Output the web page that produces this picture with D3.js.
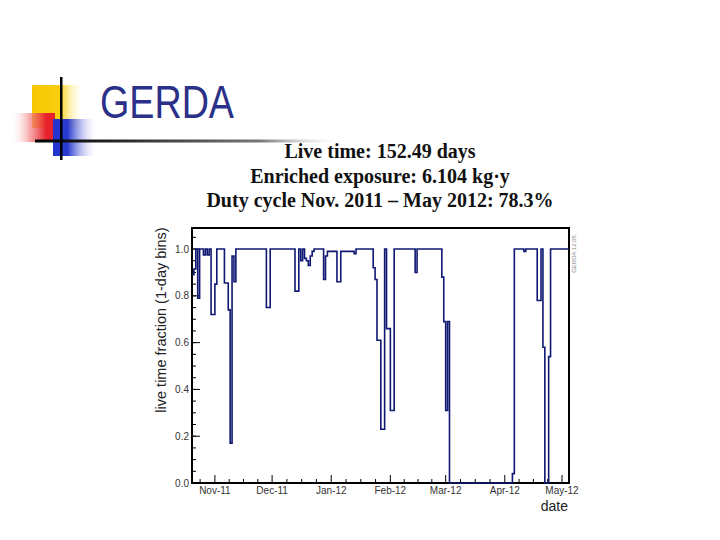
<!DOCTYPE html>
<html>
<head>
<meta charset="utf-8">
<script src="https://cdn.jsdelivr.net/npm/d3@7"></script>
<style>
body { margin: 0; background: #fff; }
</style>
</head>
<body>
<svg id="canvas" width="720" height="540"></svg>
<script>
let titleLines = ['Live time: 152.49 days', 'Enriched exposure: 6.104 kg\u00b7y', 'Duty cycle Nov. 2011 \u2013 May 2012: 78.3%'];

// one value per day, first bin = 20 Oct 2011
let firstDay = '2011-10-20';
let lastEdge = '2012-05-04T16:00:00Z';
let liveFraction = [
    0.89, 0.915, 1.0, 0.79, 1.0, 1.0, 0.975, 1.0, 0.975, 1.0,
    0.72, 0.72, 0.85, 1.0, 1.0, 1.0, 1.0, 0.855, 0.855, 0.74,
    0.17, 0.97, 0.86, 1.0, 1.0, 1.0, 1.0, 1.0, 1.0, 1.0,
    1.0, 1.0, 1.0, 1.0, 1.0, 1.0, 1.0, 1.0, 1.0, 0.75,
    0.75, 1.0, 1.0, 1.0, 1.0, 1.0, 1.0, 1.0, 1.0, 1.0,
    1.0, 1.0, 1.0, 1.0, 0.82, 0.82, 1.0, 0.95, 1.0, 0.96,
    0.95, 0.93, 0.97, 0.99, 1.0, 1.0, 1.0, 1.0, 1.0, 0.87,
    0.97, 0.99, 0.99, 0.99, 0.99, 0.99, 0.86, 0.86, 0.99, 0.99,
    0.99, 0.99, 0.99, 0.99, 0.99, 0.98, 1.0, 1.0, 1.0, 1.0,
    1.0, 1.0, 1.0, 1.0, 1.0, 0.92, 0.87, 0.61, 0.61, 0.23,
    0.23, 1.0, 0.66, 0.66, 0.31, 0.31, 1.0, 1.0, 1.0, 1.0,
    1.0, 1.0, 1.0, 1.0, 1.0, 1.0, 1.0, 0.90, 1.0, 1.0,
    1.0, 1.0, 1.0, 1.0, 1.0, 1.0, 1.0, 1.0, 1.0, 1.0,
    1.0, 0.88, 0.69, 0.31, 0.69, 0.0, 0.0, 0.0, 0.0, 0.0,
    0.0, 0.0, 0.0, 0.0, 0.0, 0.0, 0.0, 0.0, 0.0, 0.0,
    0.0, 0.0, 0.0, 0.0, 0.0, 0.0, 0.0, 0.0, 0.0, 0.0,
    0.0, 0.0, 0.0, 0.0, 0.0, 0.0, 0.0, 0.0, 0.04, 1.0,
    1.0, 1.0, 1.0, 1.0, 0.99, 1.0, 1.0, 1.0, 1.0, 1.0,
    1.0, 0.78, 0.78, 1.0, 0.58, 0.0, 0.0, 0.54, 1.0, 1.0,
    1.0, 1.0, 1.0, 1.0, 1.0, 1.0, 1.0, 1.0
];

let monthTicks = ['2011-10-01', '2011-11-01', '2011-12-01', '2012-01-01', '2012-02-01', '2012-03-01', '2012-04-01', '2012-05-01', '2012-06-01'];
let monthLabels = ['', 'Nov-11', 'Dec-11', 'Jan-12', 'Feb-12', 'Mar-12', 'Apr-12', 'May-12', ''];
let yTicks = [0, 0.2, 0.4, 0.6, 0.8, 1.0];
let yTickLabels = ['0.0', '0.2', '0.4', '0.6', '0.8', '1.0'];

let canvas = d3.select('#canvas');
let sans = '"Liberation Sans", Arial, sans-serif';

let plotLeft = 192, plotRight = 569, plotTop = 228, plotBottom = 483;

let start = new Date(firstDay + 'T00:00:00Z');
let xScale = d3.scaleUtc()
    .domain([start, new Date(lastEdge)])
    .range([plotLeft, plotRight]);
let yScale = d3.scaleLinear()
    .domain([0, 1.09])
    .range([plotBottom, plotTop]);

// ---- logo ----
let defs = canvas.append('defs');
let grad = (id, stops) => {
    let g = defs.append('linearGradient').attr('id', id)
        .attr('x1', '0%').attr('x2', '100%').attr('y1', '0%').attr('y2', '0%');
    stops.forEach((s) => {
        g.append('stop').attr('offset', s[0]).attr('stop-color', s[1]).attr('stop-opacity', s[2]);
    });
};
grad('yellowFade', [['0%', '#f7c600', 1], ['55%', '#f9cf10', 1], ['100%', '#fff6c0', 0]]);
grad('redFade', [['0%', '#ffffff', 0], ['45%', '#f08080', 0.7], ['80%', '#e8222a', 1], ['100%', '#e8222a', 1]]);
grad('blueFade', [['0%', '#2233cc', 1], ['35%', '#2a3bd0', 1], ['100%', '#c8ccf4', 0]]);
grad('lineFade', [['0%', '#000000', 1], ['25%', '#222222', 1], ['75%', '#777777', 1], ['100%', '#cccccc', 0]]);

canvas.append('rect').attr('x', 32).attr('y', 85).attr('width', 50).attr('height', 43).attr('fill', 'url(#yellowFade)');
canvas.append('rect').attr('x', 10).attr('y', 113).attr('width', 45).attr('height', 29).attr('fill', 'url(#redFade)');
canvas.append('rect').attr('x', 53).attr('y', 119).attr('width', 42).attr('height', 37).attr('fill', 'url(#blueFade)');
canvas.append('rect').attr('x', 35).attr('y', 139.5).attr('width', 300).attr('height', 3).attr('fill', 'url(#lineFade)');
canvas.append('rect').attr('x', 60).attr('y', 77).attr('width', 2.5).attr('height', 83).attr('fill', '#000');

canvas.append('text')
    .attr('x', 100).attr('y', 118)
    .attr('textLength', 134).attr('lengthAdjust', 'spacingAndGlyphs')
    .style('font-family', sans).style('font-size', '46px')
    .attr('fill', '#2b3088')
    .text('GERDA');

// ---- titles ----
canvas.selectAll('text.title')
    .data(titleLines)
    .enter()
    .append('text')
    .attr('class', 'title')
    .attr('x', 380)
    .attr('y', (d, i) => 158 + i * 24.5)
    .attr('text-anchor', 'middle')
    .style('font-family', '"Liberation Serif", "Times New Roman", serif')
    .style('font-weight', 'bold')
    .style('font-size', '20px')
    .attr('fill', '#111')
    .text((d) => d);

// ---- ticks ----
let months = monthTicks.map((d) => new Date(d + 'T00:00:00Z'));
let minorX = [];
for (let i = 0; i < months.length - 1; i++) {
    let a = months[i].getTime(), b = months[i + 1].getTime();
    for (let k = 1; k < 4; k++) minorX.push(new Date(a + (b - a) * k / 4));
}
let inX = (d) => xScale(d) >= plotLeft && xScale(d) <= plotRight;

canvas.selectAll('line.xminor')
    .data(minorX.filter(inX))
    .enter()
    .append('line')
    .attr('x1', (d) => xScale(d)).attr('x2', (d) => xScale(d))
    .attr('y1', plotBottom).attr('y2', plotBottom - 4)
    .attr('stroke', '#000').attr('stroke-width', 1);

canvas.selectAll('line.xmajor')
    .data(months.filter(inX))
    .enter()
    .append('line')
    .attr('x1', (d) => xScale(d)).attr('x2', (d) => xScale(d))
    .attr('y1', plotBottom).attr('y2', plotBottom - 8)
    .attr('stroke', '#000').attr('stroke-width', 1);

canvas.selectAll('text.xlabel')
    .data(months.map((d, i) => [d, monthLabels[i]]).filter((d) => inX(d[0])))
    .enter()
    .append('text')
    .attr('x', (d) => xScale(d[0]))
    .attr('y', 494)
    .attr('text-anchor', 'middle')
    .style('font-family', sans).style('font-size', '10px')
    .attr('fill', '#333')
    .text((d) => d[1]);

let minorY = d3.range(0, 22).map((i) => i * 0.05).filter((v) => yScale(v) >= plotTop);
canvas.selectAll('line.yminor')
    .data(minorY)
    .enter()
    .append('line')
    .attr('x1', plotLeft).attr('x2', plotLeft + 4)
    .attr('y1', (d) => yScale(d)).attr('y2', (d) => yScale(d))
    .attr('stroke', '#000').attr('stroke-width', 1);

canvas.selectAll('line.ymajor')
    .data(yTicks)
    .enter()
    .append('line')
    .attr('x1', plotLeft).attr('x2', plotLeft + 8)
    .attr('y1', (d) => yScale(d)).attr('y2', (d) => yScale(d))
    .attr('stroke', '#000').attr('stroke-width', 1);

canvas.selectAll('text.ylabel')
    .data(yTicks)
    .enter()
    .append('text')
    .attr('x', 189)
    .attr('y', (d) => yScale(d) + 3.5)
    .attr('text-anchor', 'end')
    .style('font-family', sans).style('font-size', '10px')
    .attr('fill', '#333')
    .text((d, i) => yTickLabels[i]);

// ---- frame ----
canvas.append('rect')
    .attr('x', plotLeft).attr('y', plotTop)
    .attr('width', plotRight - plotLeft).attr('height', plotBottom - plotTop)
    .attr('fill', 'none').attr('stroke', '#000').attr('stroke-width', 2);

// ---- histogram ----
canvas.append('clipPath').attr('id', 'plotClip')
    .append('rect').attr('x', plotLeft).attr('y', plotTop - 1)
    .attr('width', plotRight - plotLeft).attr('height', plotBottom - plotTop + 2);

let points = liveFraction.map((v, i) => [d3.utcDay.offset(start, i), v]);
points.push([d3.utcDay.offset(start, liveFraction.length), liveFraction[liveFraction.length - 1]]);

let stepLine = d3.line()
    .x((d) => xScale(d[0]))
    .y((d) => yScale(d[1]))
    .curve(d3.curveStepAfter);

canvas.append('path')
    .attr('d', stepLine(points))
    .attr('clip-path', 'url(#plotClip)')
    .attr('fill', 'none')
    .attr('stroke', '#0f1872')
    .attr('stroke-width', 1.6);

// ---- axis titles ----
canvas.append('text')
    .attr('transform', 'translate(166,320) rotate(-90)')
    .attr('text-anchor', 'middle')
    .style('font-family', sans).style('font-size', '14.5px')
    .attr('fill', '#222')
    .text('live time fraction (1-day bins)');

canvas.append('text')
    .attr('x', 568).attr('y', 511)
    .attr('text-anchor', 'end')
    .style('font-family', sans).style('font-size', '14px')
    .attr('fill', '#222')
    .text('date');

canvas.append('text')
    .attr('transform', 'translate(576,254) rotate(-90)')
    .attr('text-anchor', 'middle')
    .style('font-family', sans).style('font-size', '6px')
    .attr('fill', '#888')
    .text('GERDA 12.05');
</script>
</body>
</html>
